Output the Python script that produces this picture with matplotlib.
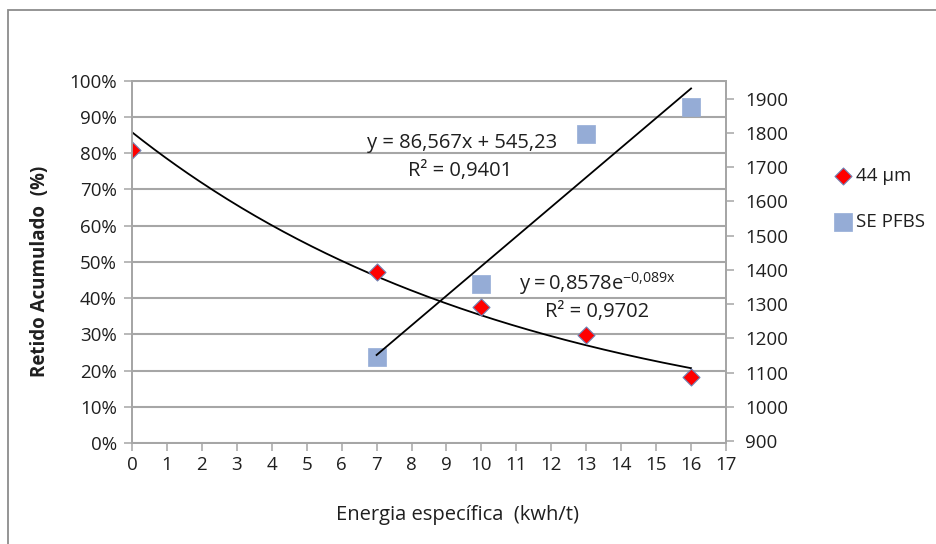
import numpy as np
import matplotlib
matplotlib.use("Agg")
import matplotlib.pyplot as plt
from matplotlib.patches import Rectangle
from matplotlib.ticker import FuncFormatter

# ---- data ----
energy_44 = [0, 7, 10, 13, 16]
retido_44 = [0.81, 0.472, 0.375, 0.298, 0.182]
energy_se = [7, 10, 13, 16]
se_pfbs = [1145, 1359, 1797, 1876]

# trendline coefficients printed on the chart
exp_a, exp_b = 0.8578, -0.089
lin_m, lin_c = 86.567, 545.23

x_ticks = list(range(0, 18))
left_ticks = [i / 10 for i in range(0, 11)]
right_ticks = list(range(900, 2000, 100))

plt.rcParams['font.family'] = ['Open Sans', 'DejaVu Sans']
txt_color = '#1F1F1F'
grid_color = '#A6A6A6'
fs = 13.5

fig = plt.figure(figsize=(9.37, 5.44), dpi=100)
W, H = 937, 544
ax = fig.add_axes([132 / W, 1 - 443 / H, (726 - 132) / W, (443 - 80.7) / H])
ax2 = ax.twinx()

# outer chart border (only left and top visible)
fig.patches.append(Rectangle((8 / W, -0.1), 1.2, (1 - 10 / H) + 0.1, transform=fig.transFigure,
                             fill=False, edgecolor='#8C8C8C', linewidth=1.3))

ax.set_xlim(0, 17)
ax.set_ylim(0, 1)
ax2.set_ylim(894, 1953)

ax.set_xticks(x_ticks)
ax.set_yticks(left_ticks)
ax.yaxis.set_major_formatter(FuncFormatter(lambda v, p: f"{v*100:.0f}%"))
ax2.set_yticks(right_ticks)

ax.grid(axis='y', color=grid_color, linewidth=1.5)
ax.set_axisbelow(True)

for a in (ax, ax2):
    for s in a.spines.values():
        s.set_color(grid_color)
        s.set_linewidth(1.3)
    a.tick_params(colors=grid_color, labelcolor=txt_color, labelsize=fs, length=6, width=1.1)
ax.tick_params(axis='x', pad=3)
ax.tick_params(axis='y', pad=5)
ax2.tick_params(axis='y', pad=8)

# exponential trendline
xe = np.linspace(min(energy_44), max(energy_44), 200)
ax.plot(xe, exp_a * np.exp(exp_b * xe), color='black', linewidth=1.3, zorder=3)
ax.scatter(energy_44, retido_44, marker='D', s=75, color='#FF0000', edgecolors='#6F83B5',
           linewidths=0.8, zorder=4, label='44 µm')

# linear trendline
xl = np.linspace(min(energy_se), max(energy_se), 50)
ax2.scatter(energy_se, se_pfbs, marker='s', s=155, color='#95ACD6', edgecolors='#95ACD6',
            linewidths=0.5, zorder=2, label='SE PFBS')
ax2.plot(xl, lin_m * xl + lin_c, color='black', linewidth=1.3, zorder=3)

fig.text(40 / W, 1 - 271 / H, 'Retido Acumulado  (%)', rotation=90, ha='center', va='center',
         fontsize=13.5, fontweight='bold', color=txt_color)
fig.text(458 / W, 1 - 515 / H, 'Energia específica  (kwh/t)', ha='center', va='center',
         fontsize=14.5, color=txt_color)

# equations
efs = 14.5
fig.text(462 / W, 1 - 143 / H, 'y = 86,567x + 545,23', ha='center', va='center',
         fontsize=efs, color=txt_color)
fig.text(460 / W, 1 - 171 / H, 'R² = 0,9401', ha='center', va='center',
         fontsize=efs, color=txt_color)
fig.text(597 / W, 1 - 284 / H, r'$\mathregular{y = 0{,}8578e^{-0{,}089x}}$', ha='center',
         va='center', fontsize=efs, color=txt_color)
fig.text(597 / W, 1 - 312 / H, 'R² = 0,9702', ha='center', va='center',
         fontsize=efs, color=txt_color)

h1, l1 = ax.get_legend_handles_labels()
h2, l2 = ax2.get_legend_handles_labels()
leg = fig.legend(h1 + h2, l1 + l2, loc='upper left', bbox_to_anchor=(826 / W, 1 - 158 / H),
                 frameon=False, fontsize=fs, labelspacing=1.45, handlelength=0.8,
                 handletextpad=0.3, borderpad=0)
for t in leg.get_texts():
    t.set_color(txt_color)

fig.savefig('out.png', dpi=100)
